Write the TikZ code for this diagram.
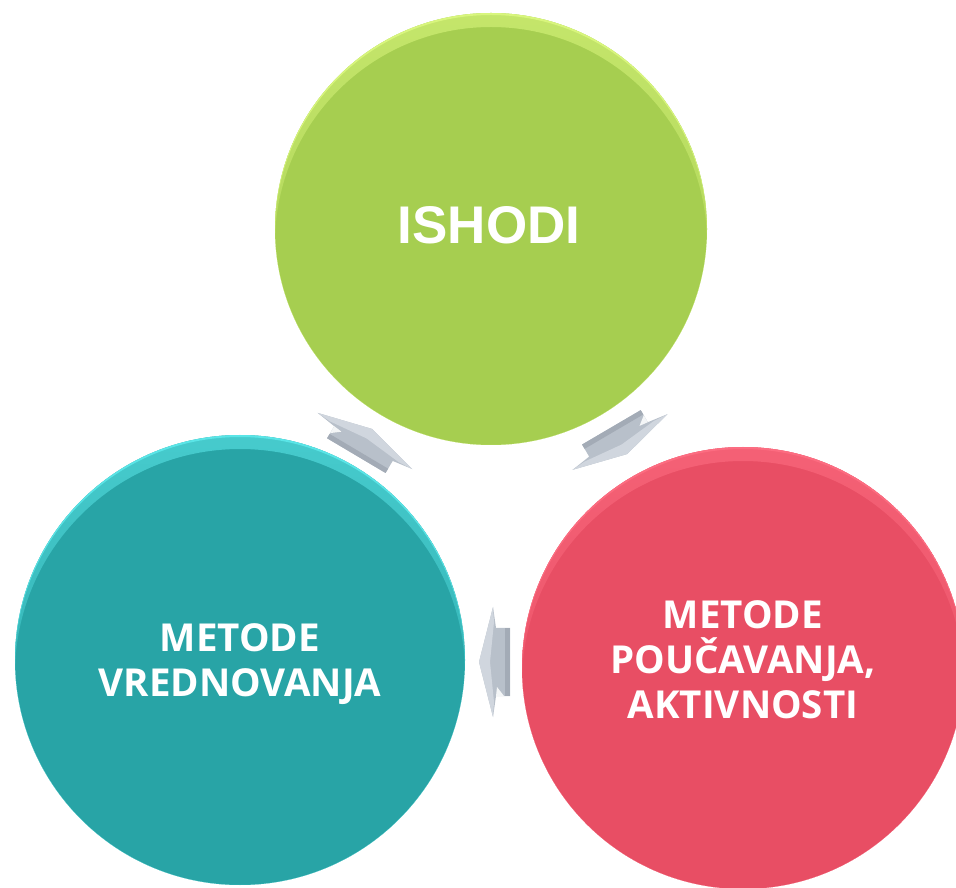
\documentclass[tikz,border=0pt]{standalone}
\usepackage{fontspec}
\newfontfamily\headfont{Liberation Sans}
\newfontfamily\labfont{Open Sans}
\definecolor{gM}{RGB}{166,206,80}
\definecolor{gL}{RGB}{222,250,130}
\definecolor{tM}{RGB}{40,164,166}
\definecolor{tL}{RGB}{96,236,238}
\definecolor{rM}{RGB}{232,78,100}
\definecolor{rL}{RGB}{255,112,132}
\definecolor{aBody}{RGB}{184,192,202}
\definecolor{aLight}{RGB}{208,214,222}
\definecolor{aDark}{RGB}{163,171,182}
\tikzset{
  ball/.style n args={3}{circle, draw=none, inner sep=0pt, minimum size=#1, fill=#2,
    path picture={
      \fill[top color=#3, bottom color=#2, fill opacity=0.55, even odd rule]
        (path picture bounding box.center) circle (#1/2)
        ([yshift=-14pt]path picture bounding box.center) circle (#1/2);
      \fill[#3, fill opacity=0.8, even odd rule]
        (path picture bounding box.center) circle (#1/2)
        ([yshift=-2pt]path picture bounding box.center) circle (#1/2);
    }},
  heading/.style={text=white, inner sep=0pt, font=\headfont\bfseries\fontsize{53}{58}\selectfont},
  label/.style={text=white, inner sep=0pt, align=center, font=\labfont\bfseries\fontsize{38.5}{45}\selectfont},
  cyclearrow/.pic={
    \fill[aBody] (14,0) -- (0,55) -- (-3,34) -- (-17,34) -- (-17,-34) -- (-3,-34) -- (0,-55) -- cycle;
    \fill[aLight] (14,0) -- (0,55) -- (-1,40) -- (3,0) -- (-1,-40) -- (0,-55) -- cycle;
    \fill[aDark] (-12,34) -- (-17,34) -- (-17,-34) -- (-12,-34) -- cycle;
    \fill[white!85!aBody] (-3,34) -- (-11,34) -- (-4,25) -- cycle;
  }
}
\begin{document}
\begin{tikzpicture}[x=1pt,y=1pt]
\useasboundingbox (0,0) rectangle (956,887);
% circles
\node[ball={432pt}{gM}{gL}] (ishodi) at (491,658) {};
\node[ball={450pt}{tM}{tL}] (vred) at (240,227) {};
\node[ball={442pt}{rM}{rL}] (pouc) at (743,219) {};
% texts
\node[heading, anchor=base] (t1) at (489,643) {ISHODI};
\node[label, anchor=north] (t2) at (240,264) {METODE\\VREDNOVANJA};
\node[label, anchor=north] (t3) at (743,287) {METODE\\POUČAVANJA,\\AKTIVNOSTI};
% cycle arrows
\coordinate (a1) at (365,446);
\coordinate (a2) at (620,445);
\coordinate (a3) at (493,225);
\pic[rotate=59.3] at (a1) {cyclearrow};
\pic[rotate=-59.6] at (a2) {cyclearrow};
\pic[rotate=180] at (a3) {cyclearrow};
\end{tikzpicture}
\end{document}
